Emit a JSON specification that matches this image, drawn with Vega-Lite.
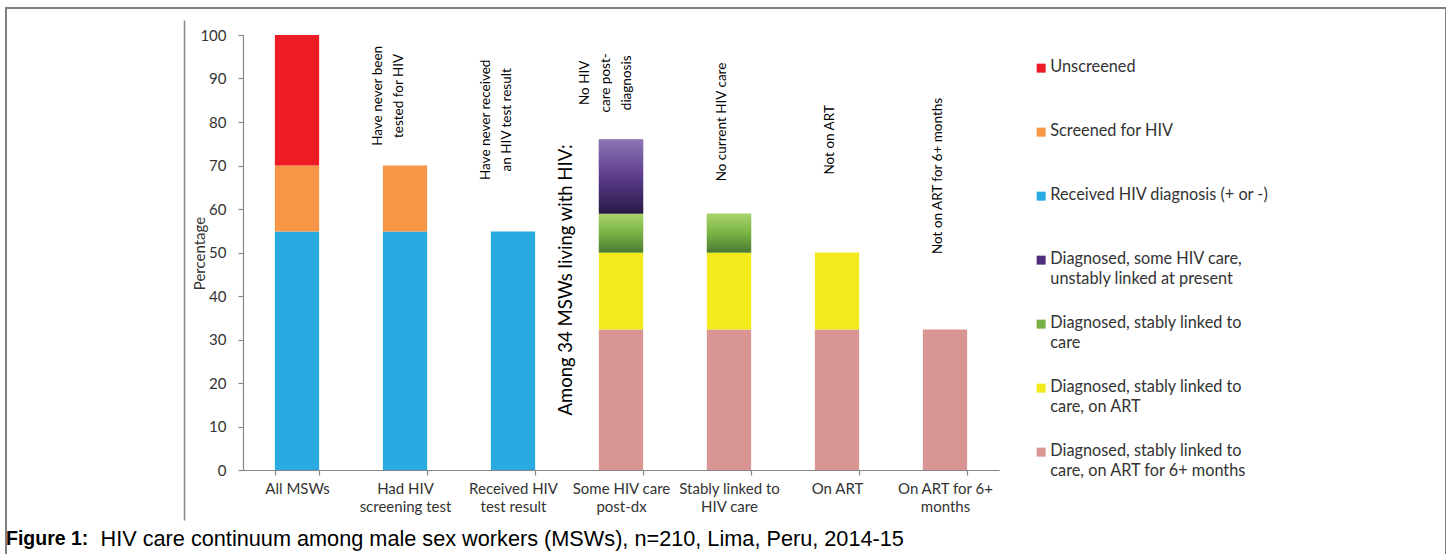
{
  "$schema": "https://vega.github.io/schema/vega-lite/v6.json",
  "autosize": "none",
  "width": 1440,
  "height": 560,
  "padding": {"left": 6, "top": 8, "right": 0, "bottom": 0},
  "background": "white",
  "config": {
    "view": {"stroke": "#808080", "strokeWidth": 2},
    "axis": {"grid": false, "domainColor": "#868686", "tickColor": "#868686", "domainWidth": 1.2, "tickWidth": 1.2}
  },
  "title": {"text": "Figure 1:", "orient": "bottom", "anchor": "start", "frame": "group", "font": "Liberation Sans", "fontSize": 19.5, "fontWeight": "bold", "color": "#000000", "offset": -23, "baseline": "alphabetic", "dx": 0},
  "datasets": {
    "bars": [
      {"cat": "All MSWs", "stage": "Received HIV diagnosis (+ or -)", "lo": 0, "hi": 54.8},
      {"cat": "All MSWs", "stage": "Screened for HIV", "lo": 54.8, "hi": 70},
      {"cat": "All MSWs", "stage": "Unscreened", "lo": 70, "hi": 100},
      {"cat": "Had HIV screening test", "stage": "Received HIV diagnosis (+ or -)", "lo": 0, "hi": 54.8},
      {"cat": "Had HIV screening test", "stage": "Screened for HIV", "lo": 54.8, "hi": 70},
      {"cat": "Received HIV test result", "stage": "Received HIV diagnosis (+ or -)", "lo": 0, "hi": 54.8},
      {"cat": "Some HIV care post-dx", "stage": "Diagnosed, stably linked to care, on ART for 6+ months", "lo": 0, "hi": 32.3},
      {"cat": "Some HIV care post-dx", "stage": "Diagnosed, stably linked to care, on ART", "lo": 32.3, "hi": 50},
      {"cat": "Some HIV care post-dx", "stage": "Diagnosed, stably linked to care", "lo": 50, "hi": 58.9},
      {"cat": "Some HIV care post-dx", "stage": "Diagnosed, some HIV care, unstably linked at present", "lo": 58.9, "hi": 76},
      {"cat": "Stably linked to HIV care", "stage": "Diagnosed, stably linked to care, on ART for 6+ months", "lo": 0, "hi": 32.3},
      {"cat": "Stably linked to HIV care", "stage": "Diagnosed, stably linked to care, on ART", "lo": 32.3, "hi": 50},
      {"cat": "Stably linked to HIV care", "stage": "Diagnosed, stably linked to care", "lo": 50, "hi": 58.9},
      {"cat": "On ART", "stage": "Diagnosed, stably linked to care, on ART for 6+ months", "lo": 0, "hi": 32.3},
      {"cat": "On ART", "stage": "Diagnosed, stably linked to care, on ART", "lo": 32.3, "hi": 50},
      {"cat": "On ART for 6+ months", "stage": "Diagnosed, stably linked to care, on ART for 6+ months", "lo": 0, "hi": 32.3}
    ],
    "notes": [
      {"cat": "Had HIV screening test", "note": "Have never been\ntested for HIV", "pos": 86.0},
      {"cat": "Received HIV test result", "note": "Have never received\nan HIV test result", "pos": 80.5},
      {"cat": "Some HIV care post-dx", "note": "No HIV\ncare post-\ndiagnosis", "pos": 89.0},
      {"cat": "Stably linked to HIV care", "note": "No current HIV care", "pos": 80.0},
      {"cat": "On ART", "note": "Not on ART", "pos": 75.9},
      {"cat": "On ART for 6+ months", "note": "Not on ART for 6+ months", "pos": 67.6}
    ],
    "group": [
      {"cat": "Some HIV care post-dx", "note": "Among 34 MSWs living with HIV:", "pos": 48}
    ]
  },
  "encoding": {
    "x": {
      "field": "cat", "type": "nominal",
      "scale": {"domain": ["All MSWs", "Had HIV screening test", "Received HIV test result", "Some HIV care post-dx", "Stably linked to HIV care", "On ART", "On ART for 6+ months"], "range": [237, 993], "paddingInner": 0.59, "paddingOuter": 0.295},
      "axis": {
        "orient": "bottom", "offset": -98,
        "title": "HIV care continuum among male sex workers (MSWs), n=210, Lima, Peru, 2014-15",
        "titleFont": "Liberation Sans", "titleFontSize": 21.7, "titleFontWeight": "normal", "titleColor": "#000000",
        "titleX": 94, "titleY": 75, "titleAlign": "left", "titleAnchor": null, "titleBaseline": "alphabetic",
        "labelAngle": 0, "labelFont": "Lato", "labelFontSize": 15, "labelColor": "#333333", "labelLineHeight": 18, "labelPadding": 6, "labelBaseline": "top",
        "tickBand": "extent", "tickSize": 5,
        "labelExpr": "datum.label == 'Had HIV screening test' ? ['Had HIV', 'screening test'] : datum.label == 'Received HIV test result' ? ['Received  HIV', 'test result'] : datum.label == 'Some HIV care post-dx' ? ['Some HIV care', 'post-dx'] : datum.label == 'Stably linked to HIV care' ? ['Stably linked  to', 'HIV care'] : datum.label == 'On ART for 6+ months' ? ['On ART for 6+', 'months'] : datum.label"
      }
    }
  },
  "layer": [
    {
      "layer": [
        {
          "data": {"name": "bars"},
          "mark": {"type": "bar"},
          "encoding": {
            "y": {
              "field": "lo", "type": "quantitative",
              "scale": {"domain": [0, 100], "range": [462, 27], "nice": false, "zero": true},
              "axis": {
                "orient": "left", "offset": -237, "values": [0, 10, 20, 30, 40, 50, 60, 70, 80, 90, 100],
                "title": "Percentage", "titleFont": "Lato", "titleFontSize": 15, "titleFontWeight": "normal", "titleColor": "#333333",
                "titleX": -44, "titleY": 245, "titleAngle": 270, "titleAlign": "center", "titleBaseline": "middle",
                "labelFont": "Lato", "labelFontSize": 15, "labelColor": "#333333", "labelPadding": 12, "tickSize": 5
              }
            },
            "y2": {"field": "hi"},
            "color": {
              "field": "stage", "type": "nominal",
              "scale": {
                "domain": ["Unscreened", "Screened for HIV", "Received HIV diagnosis (+ or -)", "Diagnosed, some HIV care, unstably linked at present", "Diagnosed, stably linked to care", "Diagnosed, stably linked to care, on ART", "Diagnosed, stably linked to care, on ART for 6+ months"],
                "range": ["#ed1c24", "#f79646", "#29abe2", "#4f2f7c", "#78b043", "#f2ea1b", "#d99594"]
              },
              "legend": {
                "orient": "none", "legendX": 1027, "legendY": 52, "title": null,
                "symbolType": "square", "symbolSize": 81, "symbolStrokeWidth": 0, "symbolOpacity": 1,
                "labelFont": "Lato", "labelFontSize": 16.3, "labelColor": "#333333",
                "labelBaseline": "top", "labelOffset": 1, "rowPadding": 27, "labelLimit": 400,
                "labelExpr": "indexof(datum.label, 'unstably') >= 0 ? ['Diagnosed, some HIV care,', 'unstably linked at present'] : indexof(datum.label, 'linked to') >= 0 ? ['Diagnosed, stably linked to', replace(datum.label, 'Diagnosed, stably linked to ', '')] : [datum.label, ' ']",
                "encode": {"labels": {"update": {"dy": {"value": -9}, "lineHeight": {"value": 20}}}}
              }
            }
          }
        },
        {
          "data": {"name": "bars"},
          "transform": [{"filter": "datum.stage == 'Diagnosed, some HIV care, unstably linked at present'"}],
          "mark": {"type": "bar", "color": {"gradient": "linear", "x1": 0, "y1": 0, "x2": 0, "y2": 1, "stops": [{"offset": 0, "color": "#8f76b4"}, {"offset": 0.5, "color": "#5b3c8c"}, {"offset": 1, "color": "#281946"}]}},
          "encoding": {
            "y": {"field": "lo", "type": "quantitative"},
            "y2": {"field": "hi"}
          }
        },
        {
          "data": {"name": "bars"},
          "transform": [{"filter": "datum.stage == 'Diagnosed, stably linked to care'"}],
          "mark": {"type": "bar", "color": {"gradient": "linear", "x1": 0, "y1": 0, "x2": 0, "y2": 1, "stops": [{"offset": 0, "color": "#aad46c"}, {"offset": 0.5, "color": "#7ab444"}, {"offset": 1, "color": "#4a7a35"}]}},
          "encoding": {
            "y": {"field": "lo", "type": "quantitative"},
            "y2": {"field": "hi"}
          }
        },
        {
          "data": {"name": "notes"},
          "transform": [{"filter": "length(split(datum.note, '\\n')) == 1"}],
          "mark": {"type": "text", "angle": 270, "baseline": "bottom", "align": "center", "font": "Lato", "fontSize": 13.5, "lineBreak": "\n", "lineHeight": 21, "color": "#000000"},
          "encoding": {
            "y": {"field": "pos", "type": "quantitative"},
            "text": {"field": "note"}
          }
        },
        {
          "data": {"name": "notes"},
          "transform": [{"filter": "length(split(datum.note, '\\n')) == 2"}],
          "mark": {"type": "text", "angle": 270, "baseline": "bottom", "align": "center", "font": "Lato", "fontSize": 13.5, "lineBreak": "\n", "lineHeight": 21, "dy": -20, "color": "#000000"},
          "encoding": {
            "y": {"field": "pos", "type": "quantitative"},
            "text": {"field": "note"}
          }
        },
        {
          "data": {"name": "notes"},
          "transform": [{"filter": "length(split(datum.note, '\\n')) == 3"}],
          "mark": {"type": "text", "angle": 270, "baseline": "bottom", "align": "center", "font": "Lato", "fontSize": 13.5, "lineBreak": "\n", "lineHeight": 21, "dy": -29, "color": "#000000"},
          "encoding": {
            "y": {"field": "pos", "type": "quantitative"},
            "text": {"field": "note"}
          }
        }
      ]
    },
    {
      "data": {"name": "group"},
      "mark": {"type": "text", "angle": 270, "baseline": "middle", "align": "center", "font": "Lato", "fontSize": 18.5, "dy": -55, "color": "#000000"},
      "encoding": {
        "y": {"field": "pos", "type": "quantitative", "scale": {"domain": [0, 100], "range": [512, 12], "nice": false},
          "axis": {"orient": "left", "offset": -178, "domain": true, "domainColor": "#868686", "domainWidth": 1.5, "ticks": false, "labels": false, "title": null, "grid": false}},
        "text": {"field": "note"}
      }
    }
  ],
  "resolve": {"scale": {"y": "independent"}}
}
